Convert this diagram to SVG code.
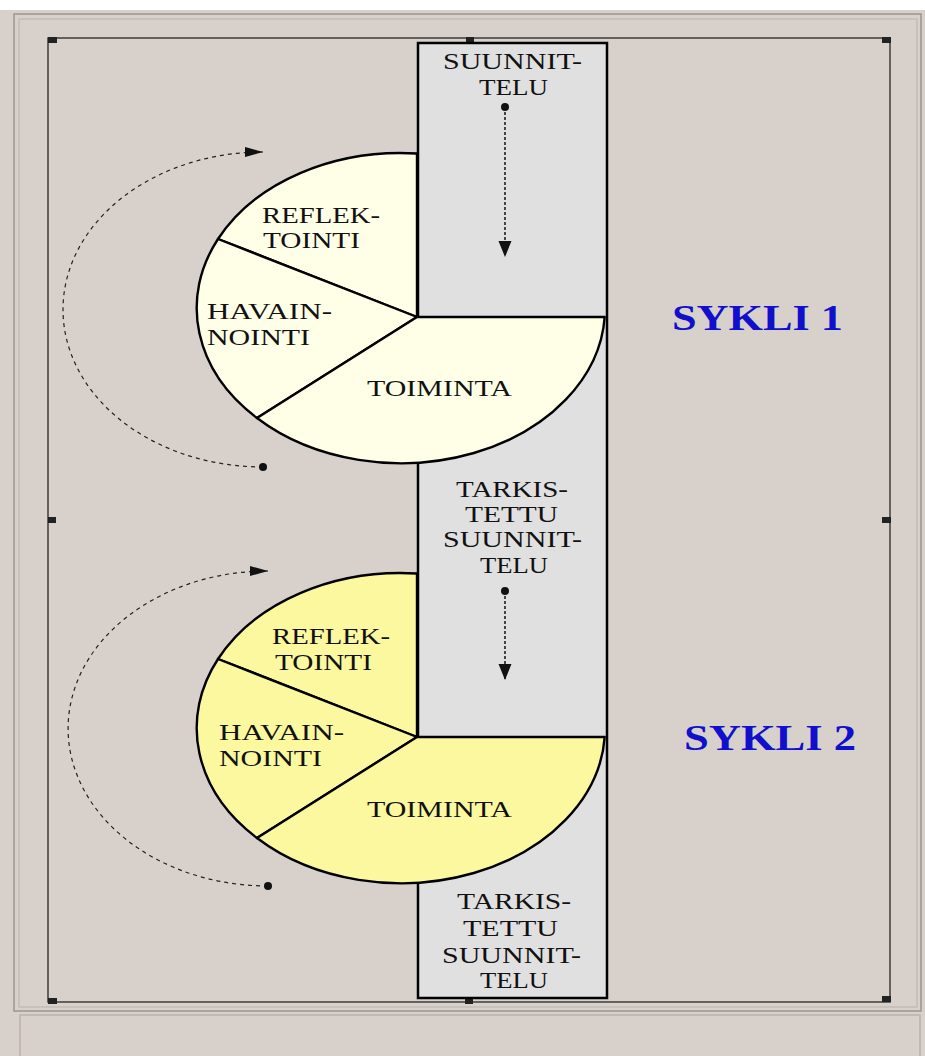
<svg xmlns="http://www.w3.org/2000/svg" width="925" height="1056" viewBox="0 0 925 1056">
<style>
.lbl{font-family:"Liberation Serif","Times New Roman",serif;font-size:22.5px;fill:#111}
.cyc{font-family:"Liberation Serif","Times New Roman",serif;font-size:36px;font-weight:bold;fill:#0f0fcc}
.slice{stroke:#000;stroke-width:2.4;stroke-linejoin:round}
.p1{fill:#fffee6}
.p2{fill:#fbf8a0}
.handle{fill:#222}
.dash{fill:none;stroke:#222;stroke-width:1.2;stroke-dasharray:4 4}
.dot{fill:none;stroke:#111;stroke-width:1.5;stroke-dasharray:3 2}
</style>
<defs>
<marker id="ah" markerUnits="userSpaceOnUse" markerWidth="20" markerHeight="12" refX="18" refY="5" orient="auto">
<path d="M0,0 L18,5 L0,10 Z" fill="#111"/>
</marker>
<marker id="ahv" markerUnits="userSpaceOnUse" markerWidth="17" markerHeight="14" refX="16" refY="6.5" orient="auto">
<path d="M0,0 L16,6.5 L0,13 Z" fill="#111"/>
</marker>
</defs>

<g id="background">
<rect x="0" y="0" width="925" height="1056" fill="#d8d0cb"/>
<rect x="0" y="0" width="925" height="10" fill="#ffffff"/>
<rect x="14" y="14" width="907" height="997" fill="none" stroke="#9c948f" stroke-width="1.5"/>
<rect x="19" y="19" width="898" height="988" fill="none" stroke="#b9b1ac" stroke-width="1"/>
<rect x="20" y="1015" width="900" height="50" fill="#d8d0cb" stroke="#b3aba6" stroke-width="1.2"/>
</g>

<g id="frame">
<rect x="48" y="38" width="842" height="964" fill="none" stroke="#3c3c3c" stroke-width="1.5"/>
<rect class="handle" x="48" y="37" width="9" height="6"/>
<rect class="handle" x="466" y="37" width="8" height="6"/>
<rect class="handle" x="882" y="37" width="9" height="6"/>
<rect class="handle" x="48" y="517" width="8" height="6"/>
<rect class="handle" x="882" y="517" width="9" height="6"/>
<rect class="handle" x="48" y="998" width="9" height="6"/>
<rect class="handle" x="465" y="998" width="8" height="6"/>
<rect class="handle" x="882" y="996" width="9" height="6"/>
</g>

<g id="planning-column">
<rect x="418" y="43" width="189" height="955" fill="#e0e0e0" stroke="#000" stroke-width="2.5"/>
</g>

<g id="pie1">
<path class="slice p1" d="M417,317 L417,153.5 A204,155 0 0 0 218,239 Z"/>
<path class="slice p1" d="M417,317 L218,239 A204,155 0 0 0 257,418 Z"/>
<path class="slice p1" d="M417,317 L257,418 A204,155 0 0 0 604.7,317 Z"/>
<text class="lbl" x="262" y="223" textLength="118" lengthAdjust="spacingAndGlyphs">REFLEK-</text>
<text class="lbl" x="263" y="248" textLength="97" lengthAdjust="spacingAndGlyphs">TOINTI</text>
<text class="lbl" x="207" y="319" textLength="125" lengthAdjust="spacingAndGlyphs">HAVAIN-</text>
<text class="lbl" x="207" y="345" textLength="103" lengthAdjust="spacingAndGlyphs">NOINTI</text>
<text class="lbl" x="367" y="396" textLength="145" lengthAdjust="spacingAndGlyphs">TOIMINTA</text>
</g>

<g id="pie2">
<path class="slice p2" d="M417,737 L417,573.5 A204,155 0 0 0 218,659 Z"/>
<path class="slice p2" d="M417,737 L218,659 A204,155 0 0 0 257,838 Z"/>
<path class="slice p2" d="M417,737 L257,838 A204,155 0 0 0 604.7,737 Z"/>
<text class="lbl" x="272" y="644" textLength="118" lengthAdjust="spacingAndGlyphs">REFLEK-</text>
<text class="lbl" x="275" y="670" textLength="97" lengthAdjust="spacingAndGlyphs">TOINTI</text>
<text class="lbl" x="219" y="740" textLength="125" lengthAdjust="spacingAndGlyphs">HAVAIN-</text>
<text class="lbl" x="219" y="766" textLength="103" lengthAdjust="spacingAndGlyphs">NOINTI</text>
<text class="lbl" x="367" y="817" textLength="145" lengthAdjust="spacingAndGlyphs">TOIMINTA</text>
</g>

<g id="plan1">
<text class="lbl" x="443" y="69" textLength="139" lengthAdjust="spacingAndGlyphs">SUUNNIT-</text>
<text class="lbl" x="479" y="95" textLength="69" lengthAdjust="spacingAndGlyphs">TELU</text>
</g>

<g id="plan2">
<text class="lbl" x="456" y="497" textLength="112" lengthAdjust="spacingAndGlyphs">TARKIS-</text>
<text class="lbl" x="465" y="522" textLength="93" lengthAdjust="spacingAndGlyphs">TETTU</text>
<text class="lbl" x="443" y="547" textLength="139" lengthAdjust="spacingAndGlyphs">SUUNNIT-</text>
<text class="lbl" x="480" y="573" textLength="68" lengthAdjust="spacingAndGlyphs">TELU</text>
</g>

<g id="plan3">
<text class="lbl" x="457" y="909" textLength="114" lengthAdjust="spacingAndGlyphs">TARKIS-</text>
<text class="lbl" x="463" y="936" textLength="95" lengthAdjust="spacingAndGlyphs">TETTU</text>
<text class="lbl" x="442" y="963" textLength="139" lengthAdjust="spacingAndGlyphs">SUUNNIT-</text>
<text class="lbl" x="480" y="988" textLength="68" lengthAdjust="spacingAndGlyphs">TELU</text>
</g>

<g id="sykli1">
<text class="cyc" x="672" y="330" textLength="171" lengthAdjust="spacingAndGlyphs">SYKLI 1</text>
</g>
<g id="sykli2">
<text class="cyc" x="684" y="750" textLength="172" lengthAdjust="spacingAndGlyphs">SYKLI 2</text>
</g>

<g id="connectors">
<path class="dash" d="M263,467 A200,157.5 0 0 1 263,152" marker-end="url(#ah)"/>
<circle cx="263" cy="467" r="4" fill="#111"/>
<path class="dash" d="M268,886 A200,157.5 0 0 1 268,571" marker-end="url(#ah)"/>
<circle cx="268" cy="886" r="4" fill="#111"/>
<path class="dot" d="M505,107 L505,257" marker-end="url(#ahv)"/>
<circle cx="505" cy="107" r="4" fill="#111"/>
<path class="dot" d="M505,591 L505,680" marker-end="url(#ahv)"/>
<circle cx="505" cy="591" r="4" fill="#111"/>
</g>
</svg>
